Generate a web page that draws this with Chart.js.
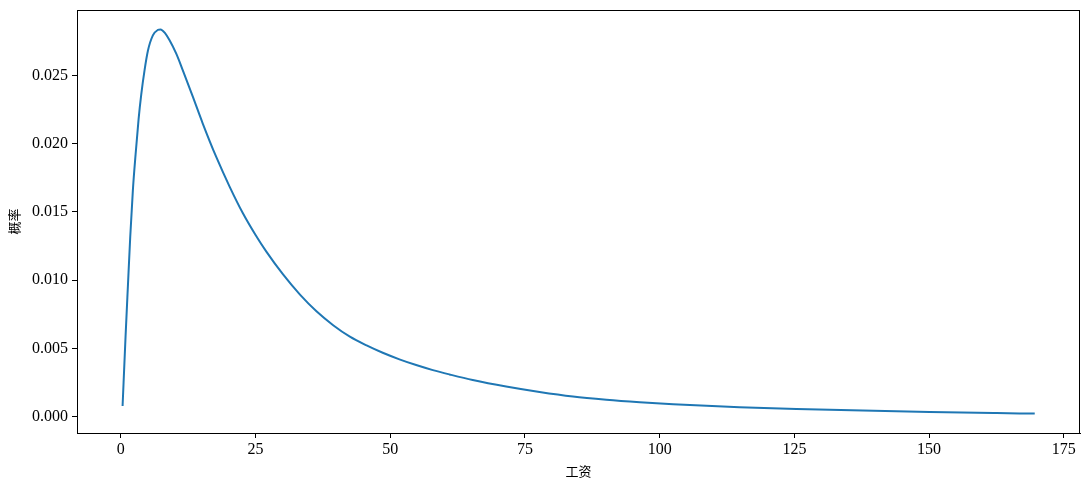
<!DOCTYPE html>
<html>
<head>
<meta charset="utf-8">
<script src="https://cdn.jsdelivr.net/npm/chart.js@4/dist/chart.umd.min.js"></script>
<style>
    body { margin: 0; background: #fff; }
    #wrap { width: 1089px; height: 490px; }
</style>
</head>
<body>
<div id="wrap"><canvas id="chart" width="1089" height="490"></canvas></div>
<script>
// --- Datos ---
const wageX = [0.32, 0.87, 1.30, 1.74, 2.23, 2.73, 3.29, 3.78, 4.40, 5.01, 5.94, 6.87, 7.37, 8.20, 9.04,
    10.28, 11.50, 13.37, 15.20, 17.70, 20.20, 22.60, 25.00, 27.00, 30.10, 33.20, 36.30, 39.40, 42.50,
    45.60, 48.60, 51.70, 54.80, 57.90, 61.00, 65.30, 71.50, 77.70, 83.90, 90.10, 96.30, 102.50, 108.70,
    114.80, 125.40, 137.70, 150.10, 162.50, 169.60];
const probY = [0.00078, 0.00586, 0.00952, 0.01318, 0.01660, 0.01920, 0.02180, 0.02360, 0.02540, 0.02680,
    0.02794, 0.02834, 0.02838, 0.02810, 0.02758, 0.02660, 0.02538, 0.02343, 0.02148, 0.01903, 0.01684,
    0.01494, 0.01331, 0.01209, 0.01042, 0.00896, 0.00772, 0.00670, 0.00586, 0.00522, 0.00468, 0.00420,
    0.00378, 0.00341, 0.00309, 0.00268, 0.00220, 0.00180, 0.00147, 0.00124, 0.00106, 0.00091, 0.00079,
    0.00069, 0.00056, 0.00044, 0.00034, 0.00026, 0.00022];
const xTicks = [0, 25, 50, 75, 100, 125, 150, 175];
const yTicks = [0, 0.005, 0.010, 0.015, 0.020, 0.025];
const xLabel = '工资';
const yLabel = '概率';

// --- Estilos ---
const tickFont = { family: '"Liberation Serif", "DejaVu Serif", serif', size: 16 };
const cjkFont = { family: '"Noto Sans CJK SC", sans-serif', size: 13 };

// marco completo alrededor del área (como los spines de matplotlib)
const framePlugin = {
    id: 'frame',
    afterDraw(chart) {
        const { ctx, chartArea: a } = chart;
        ctx.save();
        ctx.strokeStyle = '#000';
        ctx.lineWidth = 1;
        ctx.strokeRect(Math.round(a.left) + 0.5, Math.round(a.top) + 0.5,
            Math.round(a.right - a.left) - 1, Math.round(a.bottom - a.top));
        ctx.restore();
    }
};

new Chart(document.getElementById('chart'), {
    type: 'line',
    data: {
        datasets: [{
            data: wageX.map((x, i) => ({ x: x, y: probY[i] })),
            borderColor: '#1f77b4',
            borderWidth: 2,
            pointRadius: 0,
            fill: false,
            cubicInterpolationMode: 'monotone'
        }]
    },
    options: {
        responsive: false,
        animation: false,
        devicePixelRatio: 1,
        layout: { padding: { top: 10, right: 9, left: 0, bottom: 0 } },
        plugins: { legend: { display: false }, tooltip: { enabled: false } },
        scales: {
            x: {
                type: 'linear',
                min: -8.14,
                max: 178,
                afterBuildTicks: scale => { scale.ticks = xTicks.map(v => ({ value: v })); },
                afterFit: scale => {
                    scale.height = 57;
                    scale.paddingLeft = 0;
                    scale.paddingRight = 0;
                },
                grid: { display: true, drawOnChartArea: false, drawTicks: true, tickLength: 5, color: '#000' },
                border: { display: true, color: '#000', width: 1 },
                ticks: { font: tickFont, color: '#000', padding: 2, maxRotation: 0, autoSkip: false,
                    callback: v => String(v) },
                title: { display: true, text: xLabel, font: cjkFont, color: '#000', padding: { bottom: 11 } }
            },
            y: {
                min: -0.0012,
                max: 0.0298,
                afterBuildTicks: scale => { scale.ticks = yTicks.map(v => ({ value: v })); },
                afterFit: scale => {
                    scale.width = 77;
                    scale.paddingTop = 0;
                    scale.paddingBottom = 0;
                },
                grid: { display: true, drawOnChartArea: false, drawTicks: true, tickLength: 5, color: '#000' },
                border: { display: true, color: '#000', width: 1 },
                ticks: { font: tickFont, color: '#000', padding: 4, autoSkip: false,
                    callback: v => v.toFixed(3) },
                title: { display: true, text: yLabel, font: cjkFont, color: '#000', padding: { top: 6 } }
            }
        }
    },
    plugins: [framePlugin]
});
</script>
</body>
</html>
